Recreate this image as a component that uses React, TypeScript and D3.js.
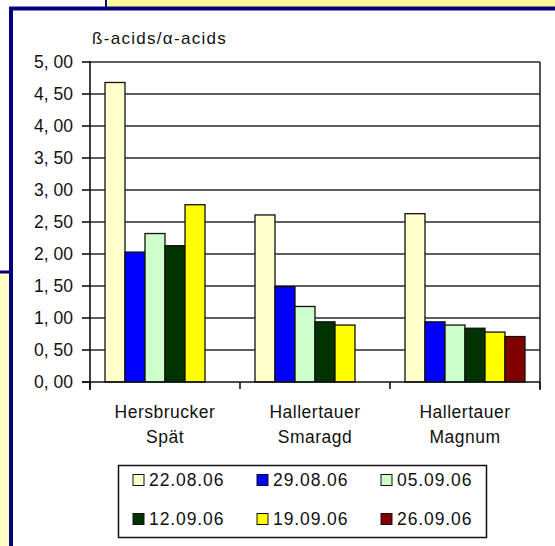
import React from "react";
import * as d3 from "d3";

const categories: string[][] = [
  ["Hersbrucker", "Spät"],
  ["Hallertauer", "Smaragd"],
  ["Hallertauer", "Magnum"],
];
const seriesNames = ["22.08.06", "29.08.06", "05.09.06", "12.09.06", "19.09.06", "26.09.06"];
const seriesColors = ["#FFFFCC", "#0000FF", "#CCFFCC", "#003300", "#FFFF00", "#800000"];
const v2208 = [4.68, 2.61, 2.63];
const v2908 = [2.03, 1.49, 0.94];
const v0509 = [2.32, 1.18, 0.89];
const v1209 = [2.13, 0.94, 0.84];
const v1909 = [2.77, 0.89, 0.78];
const v2609: (number | null)[] = [null, null, 0.71];
const seriesValues: (number | null)[][] = [v2208, v2908, v0509, v1209, v1909, v2609];
const yTicks = [0, 0.5, 1, 1.5, 2, 2.5, 3, 3.5, 4, 4.5, 5];
const title = "ß-acids/α-acids";

const W = 555;
const H = 546;
const FONT = "'Liberation Sans', Arial, sans-serif";

export default function App() {
  const catKeys = categories.map((c) => c.join(" "));
  const x0 = d3.scaleBand<string>().domain(catKeys).range([90, 540]).padding(0);
  const x1 = d3
    .scaleBand<string>()
    .domain(seriesNames)
    .range([0, x0.bandwidth()])
    .paddingInner(0)
    .paddingOuter(0.75);
  const y = d3.scaleLinear().domain([0, 5]).range([382, 62]);
  const fmt = (v: number) => v.toFixed(2).replace(".", ", ");

  const boundaries = [...catKeys.map((k) => x0(k)!), 540];

  return (
    <svg
      width={W}
      height={H}
      style={{ position: "absolute", left: 0, top: 0, background: "#fff" }}
      fontFamily={FONT}
    >
      {/* decorative frame */}
      <rect x={0} y={0} width={W} height={H} fill="#fff" />
      <rect x={108} y={0} width={W - 108} height={7} fill="#FFFA99" />
      <rect x={0} y={0} width={106} height={7} fill="#fff" />
      <line x1={106} y1={0} x2={106} y2={8} stroke="#10104a" strokeWidth={2} />
      <rect x={0} y={272} width={9} height={H - 272} fill="#FFFFC4" />
      <line x1={0} y1={272} x2={11} y2={272} stroke="#000080" strokeWidth={3} />
      <line x1={9} y1={8.5} x2={W} y2={8.5} stroke="#000080" strokeWidth={4} />
      <line x1={11} y1={7} x2={11} y2={H} stroke="#000080" strokeWidth={4} />

      {/* title */}
      <text x={92} y={44} fontSize={17} letterSpacing={1.3} fill="#111">
        {title}
      </text>

      {/* gridlines */}
      {yTicks.slice(1).map((t) => (
        <line key={"g" + t} x1={90} x2={540} y1={y(t)} y2={y(t)} stroke="#2a2a2a" strokeWidth={1.6} />
      ))}
      <line x1={540} x2={540} y1={y(5)} y2={390} stroke="#2a2a2a" strokeWidth={1.6} />

      {/* bars */}
      {seriesValues.map((vals, si) =>
        vals.map((v, ci) =>
          v == null ? null : (
            <rect
              key={si + "-" + ci}
              x={x0(catKeys[ci])! + x1(seriesNames[si])!}
              y={y(v)}
              width={x1.bandwidth()}
              height={y(0) - y(v)}
              fill={seriesColors[si]}
              stroke="#111"
              strokeWidth={1.3}
            />
          )
        )
      )}

      {/* y axis */}
      <line x1={90} x2={90} y1={y(5) - 1} y2={390} stroke="#111" strokeWidth={1.6} />
      {yTicks.map((t) => (
        <g key={"t" + t}>
          <line x1={82} x2={90} y1={y(t)} y2={y(t)} stroke="#111" strokeWidth={1.6} />
          <text x={73} y={y(t)} dy="0.36em" textAnchor="end" fontSize={17.5} fill="#111">
            {fmt(t)}
          </text>
        </g>
      ))}

      {/* x axis */}
      <line x1={82} x2={540} y1={y(0)} y2={y(0)} stroke="#111" strokeWidth={1.6} />
      {boundaries.map((b, i) => (
        <line key={"xb" + i} x1={b} x2={b} y1={y(0)} y2={389} stroke="#111" strokeWidth={1.6} />
      ))}
      {categories.map((c, i) => (
        <text
          key={"c" + i}
          x={x0(catKeys[i])! + x0.bandwidth() / 2}
          textAnchor="middle"
          fontSize={17.5}
          letterSpacing={0.5}
          fill="#111"
        >
          <tspan x={x0(catKeys[i])! + x0.bandwidth() / 2} y={418}>
            {c[0]}
          </tspan>
          <tspan x={x0(catKeys[i])! + x0.bandwidth() / 2} y={443}>
            {c[1]}
          </tspan>
        </text>
      ))}

      {/* legend */}
      <rect x={118.5} y={465.5} width={368} height={72} fill="#fff" stroke="#111" strokeWidth={1.5} />
      {seriesNames.map((name, i) => {
        const col = i % 3;
        const row = Math.floor(i / 3);
        const sx = 133 + col * 124;
        const cy = row === 0 ? 480 : 519;
        return (
          <g key={"l" + i}>
            <rect x={sx} y={cy - 5.5} width={11} height={11} fill={seriesColors[i]} stroke="#111" strokeWidth={1} />
            <text x={sx + 16} y={cy} dy="0.36em" fontSize={17.5} letterSpacing={0.9} fill="#111">
              {name}
            </text>
          </g>
        );
      })}
    </svg>
  );
}
